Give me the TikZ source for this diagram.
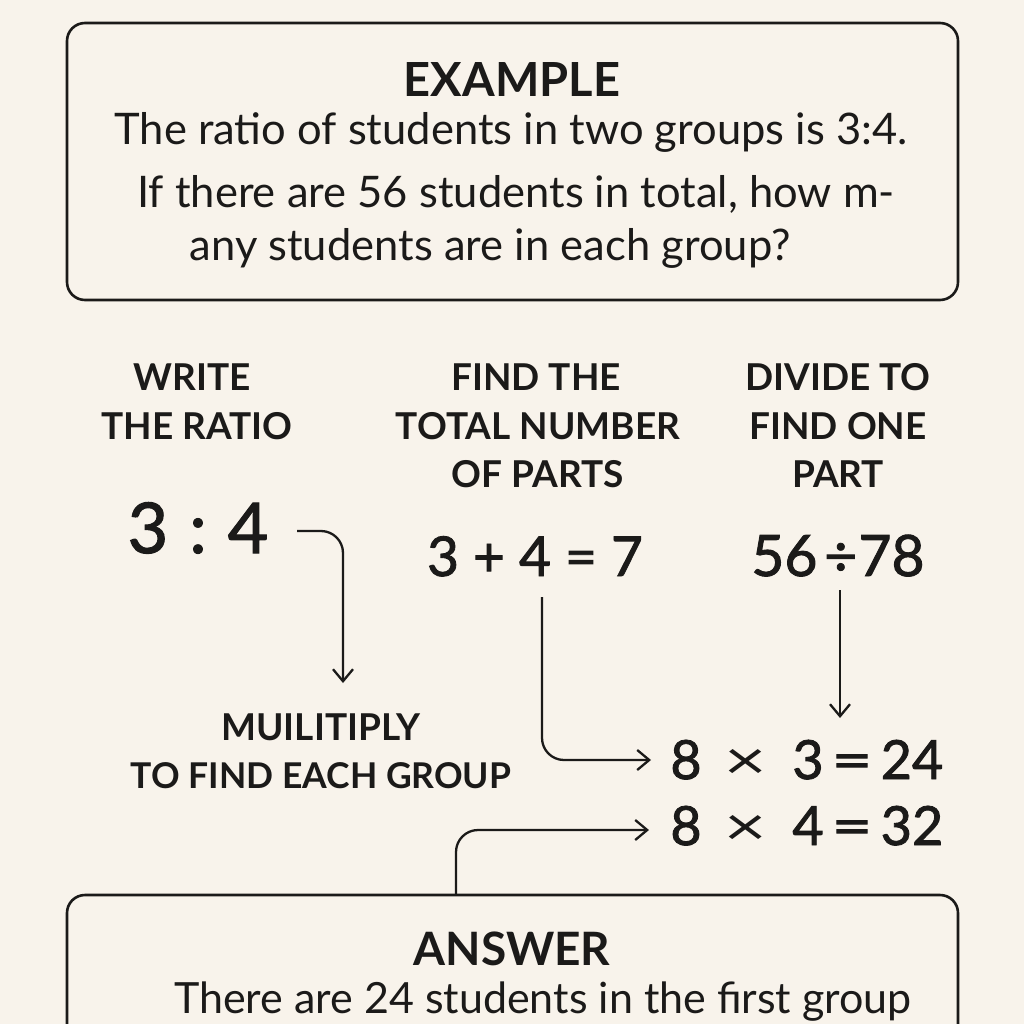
\documentclass[tikz,border=0pt]{standalone}
\usepackage{fontspec}
\setmainfont{Lato}
\newfontfamily\numfont{Lato}[FakeBold=1.6]
\usetikzlibrary{arrows.meta}
\definecolor{bg}{HTML}{F8F3EB}
\definecolor{ink}{HTML}{1B1A19}
\newcommand{\fs}[1]{\fontsize{#1}{#1}\selectfont}
\newcommand{\pc}[2]{\makebox[#1pt][c]{#2}}
\newcommand{\tms}{\scalebox{1.35}[1]{\rmfamily ×}}
\tikzset{
  box/.style={draw=ink, line width=2.6pt, rounded corners=18pt},
  title/.style={anchor=base, font=\fs{47}\bfseries, text=ink, inner sep=0pt},
  body/.style={anchor=base, font=\fs{43.5}, text=ink, inner sep=0pt},
  lbl/.style={anchor=base, font=\fs{37}\bfseries, text=ink, inner sep=0pt},
  eq/.style={anchor=base, font=\numfont\fs{55}, text=ink, inner sep=0pt},
  arr/.style={draw=ink, line width=2.3pt, rounded corners=22pt,
    -{Straight Barb[length=12pt, width=20pt, line width=2.3pt]}},
}
\begin{document}
\begin{tikzpicture}[x=1pt, y=-1pt]
\clip (0,0) rectangle (1024,1024);
\fill[bg] (0,0) rectangle (1024,1024);
% top box
\node[box, minimum width=891pt, minimum height=277pt, inner sep=0pt] (exbox) at (512.5,161.5) {};
\node[title] (extitle) at (512,97) {EXAMPLE};
\node[body] (ex1) at (511,145) {The ratio of students in two groups is 3:4.};
\node[body] (ex2) at (516,208) {If there are 56 students in total, how m-};
\node[body] (ex3) at (490,260) {any students are in each group?};
% step labels
\node[lbl] (w1) at (192,390) {WRITE};
\node[lbl] (w2) at (197,439) {THE RATIO};
\node[lbl] (f1) at (536,390) {FIND THE};
\node[lbl] (f2) at (538,439) {TOTAL NUMBER};
\node[lbl] (f3) at (538,487) {OF PARTS};
\node[lbl] (d1) at (838,390) {DIVIDE TO};
\node[lbl] (d2) at (838,439) {FIND ONE};
\node[lbl] (d3) at (838,487) {PART};
\node[lbl] (m1) at (321,740) {MUILITIPLY};
\node[lbl, font=\fs{35.5}\bfseries] (m2) at (321,788) {TO FIND EACH GROUP};
% equations
\node[eq, font=\numfont\fs{70}] (r34) at (198,553) {3\hspace{0.3em}:\hspace{0.3em}4};
\node[eq] (sum) at (535,576) {3 + 4 = 7};
\node[eq, font=\numfont\fs{57}] (div) at (838,576) {56\hspace{0.12em}÷\hspace{0.02em}78};
\node[eq, font=\numfont\fs{54}] (p1) at (808,779)
  {\pc{30}{8}\pc{90}{\tms}\pc{34}{3}\pc{54}{\scalebox{1.3}[1]{=}}\pc{66}{24}};
\node[eq, font=\numfont\fs{54}] (p2) at (808,845)
  {\pc{30}{8}\pc{90}{\tms}\pc{34}{4}\pc{54}{\scalebox{1.3}[1]{=}}\pc{66}{32}};
% answer box
\node[box, minimum width=891pt, minimum height=260pt, inner sep=0pt] (ansbox) at (512.5,1025) {};
\node[title, font=\fs{46}\bfseries] (anstitle) at (512,965) {ANSWER};
\node[body, font=\fs{43}] (ans1) at (543,1013) {There are 24 students in the first group};
% connector end points
\coordinate (a1s) at (297,531);
\coordinate (a1e) at (343,683);
\coordinate (a2s) at (542,597);
\coordinate (a2e) at (651,760);
\coordinate (a3s) at (840,590);
\coordinate (a3e) at (840,718);
\coordinate (a4s) at (456,895);
\coordinate (a4e) at (649,830);
\draw[arr] (a1s) -| (a1e);
\draw[arr] (a2s) |- (a2e);
\draw[arr] (a3s) -- (a3e);
\draw[arr] (a4s) |- (a4e);
\end{tikzpicture}
\end{document}
